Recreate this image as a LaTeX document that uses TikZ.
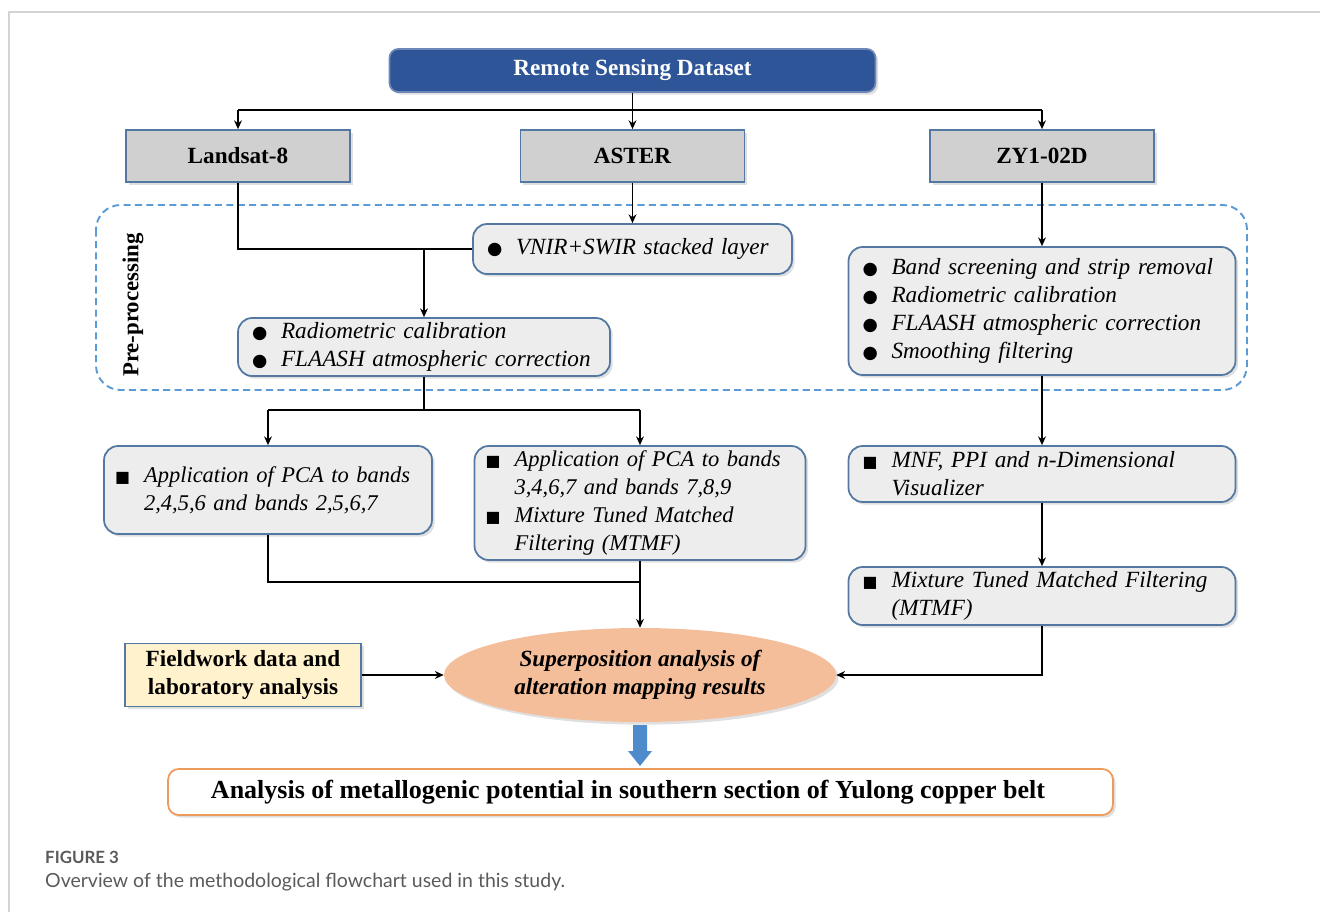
\documentclass[tikz,border=0pt]{standalone}
\usepackage{fontspec}
\setmainfont{Liberation Serif}
\newfontfamily\symfont{DejaVu Sans}
\newfontfamily\capfont{Lato}
\usetikzlibrary{arrows.meta,shapes.geometric,shadows,positioning}
\definecolor{darkblue}{HTML}{2E5597}
\definecolor{boxline}{HTML}{5379A3}
\definecolor{srcfill}{HTML}{D0D0D0}
\definecolor{stepfill}{HTML}{EDEDED}
\definecolor{dashblue}{HTML}{5B9BD5}
\definecolor{salmon}{HTML}{F5BE9B}
\definecolor{fieldfill}{HTML}{FFF2CC}
\definecolor{finalline}{HTML}{EE9A5C}
\definecolor{arrowblue}{HTML}{4E8BCB}
\definecolor{framegray}{HTML}{D4D4D4}
\definecolor{capgray}{HTML}{5A5A5A}
\newcommand{\dotitem}{\makebox[0.58cm][l]{\fontsize{10}{10}\symfont ●}}
\newcommand{\sqitem}{\makebox[0.58cm][l]{\fontsize{9}{9}\symfont ■}}
\newcommand{\gap}{\hspace*{0.58cm}}
\tikzset{
  shade/.style={drop shadow={shadow xshift=1.5pt,shadow yshift=-1.5pt,opacity=0.25}},
  topbox/.style={draw=darkblue!70!white, fill=darkblue, rounded corners=5pt, line width=1pt,
    minimum width=9.72cm, minimum height=0.86cm, text=white,
    font=\fontsize{13.2}{16}\selectfont\bfseries, shade},
  srcbox/.style={draw=boxline, fill=srcfill, line width=1pt,
    minimum width=4.48cm, minimum height=1.04cm,
    font=\fontsize{13.2}{16}\selectfont\bfseries, shade},
  stepbox/.style={draw=boxline, fill=stepfill, rounded corners=8pt, line width=1pt,
    inner xsep=0.28cm, inner ysep=0pt, align=left,
    font=\fontsize{13.2}{16}\selectfont\itshape, shade},
  pcabox/.style={stepbox, inner xsep=0.22cm, font=\fontsize{12.8}{16}\selectfont\itshape},
  line/.style={line width=0.7pt},
  conn/.style={line width=0.7pt, -{Stealth[length=5pt,width=4.5pt]}}
}
\begin{document}
\begin{tikzpicture}[x=0.02cm,y=-0.02cm]
  \useasboundingbox (0,0) rectangle (1320,912);
  \draw[framegray, line width=1pt] (9,912) -- (9,12) -- (1320,12);

  \node[topbox] (rsd) at (632.5,70.5) {\raisebox{-1pt}{Remote Sensing Dataset}};
  \node[srcbox] (landsat) at (238,156) {Landsat-8};
  \node[srcbox] (aster) at (632.5,156) {ASTER};
  \node[srcbox] (zy) at (1042,156) {ZY1-02D};

  \draw[dashblue, line width=1.1pt, dash pattern=on 4pt off 2.5pt, rounded corners=14pt]
    (96,205) rectangle (1247,390);
  \node[rotate=90, font=\fontsize{13}{16}\selectfont\bfseries] (prelabel) at (133,305) {Pre-processing};

  \node[stepbox, text width=5.82cm, minimum height=1cm] (vnir) at (632.5,249)
    {\dotitem VNIR+SWIR stacked layer};
  \node[stepbox, text width=6.88cm, minimum height=1.16cm] (radio) at (424,347)
    {\dotitem Radiometric calibration\\\dotitem FLAASH atmospheric correction};
  \node[stepbox, text width=7.18cm, minimum height=2.56cm] (zypre) at (1042,311)
    {\dotitem Band screening and strip removal\\\dotitem Radiometric calibration\\
     \dotitem FLAASH atmospheric correction\\\dotitem Smoothing filtering};

  \node[pcabox, text width=6.12cm, minimum height=1.76cm] (pcaL) at (268,490)
    {\sqitem Application of PCA to bands\\\gap 2,4,5,6 and bands 2,5,6,7};
  \node[pcabox, text width=6.18cm, minimum height=2.28cm] (pcaR) at (640,503)
    {\sqitem Application of PCA to bands\\\gap 3,4,6,7 and bands 7,8,9\\
     \sqitem Mixture Tuned Matched\\\gap Filtering (MTMF)};
  \node[stepbox, text width=7.18cm, minimum height=1.12cm] (mnf) at (1042,474)
    {\sqitem MNF, PPI and n-Dimensional\\\gap Visualizer};
  \node[stepbox, text width=7.18cm, minimum height=1.16cm] (mtmf) at (1042,596)
    {\sqitem Mixture Tuned Matched Filtering\\\gap (MTMF)};

  \node[ellipse, fill=salmon, minimum width=7.84cm, minimum height=1.88cm, align=center,
    font=\fontsize{13.2}{16}\selectfont\bfseries\itshape, shade] (sup) at (640,675)
    {Superposition analysis of\\alteration mapping results};
  \node[draw=boxline, fill=fieldfill, line width=1pt, minimum width=4.72cm, minimum height=1.26cm,
    align=center, font=\fontsize{13.2}{16}\selectfont\bfseries, shade] (field) at (243,675)
    {Fieldwork data and\\laboratory analysis};
  \node[draw=finalline, fill=white, rounded corners=6pt, line width=1pt,
    minimum width=18.9cm, minimum height=0.92cm,
    font=\fontsize{14.8}{17}\selectfont\bfseries, shade] (final) at (640.5,792)
    {\hspace*{-0.5cm}Analysis of metallogenic potential in southern section of Yulong copper belt};

  \coordinate (split) at (632.5,110);
  \draw[line] (rsd.south) -- (split);
  \draw[line] (landsat.north |- split) -- (zy.north |- split);
  \draw[conn] (landsat.north |- split) -- (landsat.north);
  \draw[conn] (split) -- (aster.north);
  \draw[conn] (zy.north |- split) -- (zy.north);

  \draw[conn] (aster.south) -- (vnir.north);
  \draw[line] (landsat.south) |- (vnir.west);
  \draw[conn] (radio.north |- vnir.west) -- (radio.north);
  \draw[conn] (zy.south) -- (zypre.north);

  \coordinate (fork) at (424,410);
  \draw[line] (radio.south) -- (fork);
  \draw[line] (pcaL.north |- fork) -- (pcaR.north |- fork);
  \draw[conn] (pcaL.north |- fork) -- (pcaL.north);
  \draw[conn] (pcaR.north |- fork) -- (pcaR.north);

  \coordinate (join) at (640,582);
  \draw[line] (pcaL.south) |- (join);
  \draw[conn] (pcaR.south) -- (sup.north);
  \draw[conn] (zypre.south) -- (mnf.north);
  \draw[conn] (mnf.south) -- (mtmf.north);
  \draw[conn] (mtmf.south) |- (sup.east);
  \draw[conn] (field.east) -- (sup.west);

  \fill[arrowblue] (633,725) -- (647,725) -- (647,751) -- (652,751) -- (640,766)
    -- (628,751) -- (633,751) -- cycle;

  \node[anchor=base west, text=capgray, font=\capfont\bfseries\fontsize{9.6}{12}\selectfont] (fig) at (39,863) {FIGURE 3};
  \node[anchor=base west, text=capgray, font=\capfont\fontsize{11.1}{13}\selectfont] (caption) at (39,887)
    {Overview of the methodological flowchart used in this study.};
\end{tikzpicture}
\end{document}
